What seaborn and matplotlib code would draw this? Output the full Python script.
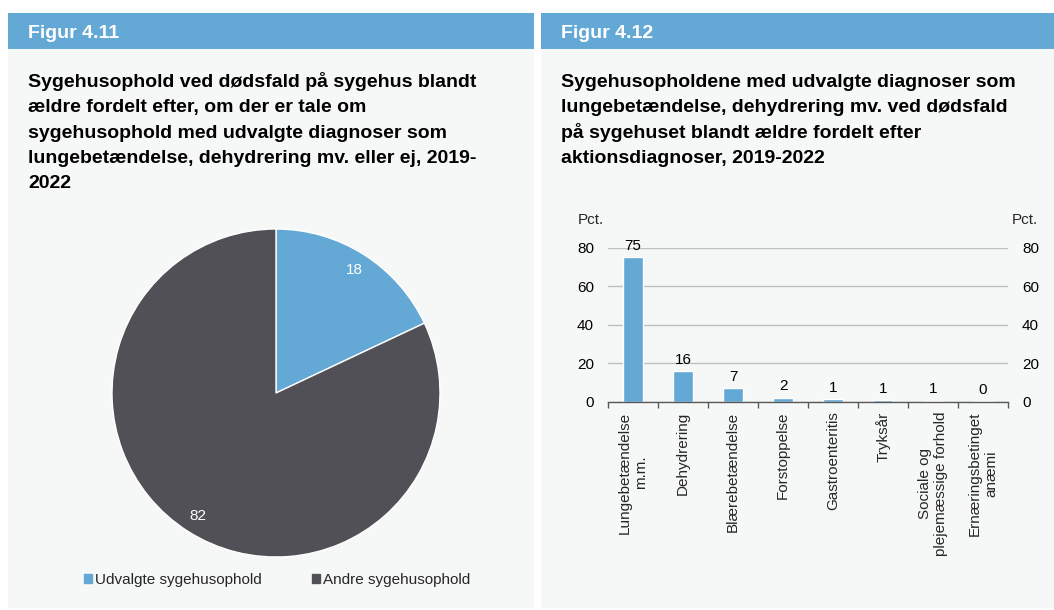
import matplotlib
matplotlib.use("Agg")
import matplotlib.pyplot as plt
import matplotlib.patches as mpatches
import seaborn as sns
import pandas as pd

# ---- data ----
pie_labels = ["Udvalgte sygehusophold", "Andre sygehusophold"]
pie_values = [18, 82]

bar_categories = ["Lungebetændelse\nm.m.", "Dehydrering", "Blærebetændelse", "Forstoppelse",
                  "Gastroenteritis", "Tryksår", "Sociale og\nplejemæssige forhold",
                  "Ernæringsbetinget\nanæmi"]
bar_values = [75.1, 16.0, 7.0, 2.1, 1.3, 0.8, 0.6, 0.2]
bar_value_labels = ["75", "16", "7", "2", "1", "1", "1", "0"]
y_ticks = [0, 20, 40, 60, 80]

left_header = "Figur 4.11"
right_header = "Figur 4.12"
left_title = ["Sygehusophold ved dødsfald på sygehus blandt",
              "ældre fordelt efter, om der er tale om",
              "sygehusophold med udvalgte diagnoser som",
              "lungebetændelse, dehydrering mv. eller ej, 2019-",
              "2022"]
right_title = ["Sygehusopholdene med udvalgte diagnoser som",
               "lungebetændelse, dehydrering mv. ved dødsfald",
               "på sygehuset blandt ældre fordelt efter",
               "aktionsdiagnoser, 2019-2022"]

BLUE = "#64A9D5"
DARK = "#505056"
PANEL = "#F6F7F7"

sns.set_theme(style="white")
plt.rcParams['font.family'] = ['Liberation Sans', 'DejaVu Sans']

W, H = 1054, 610
fig = plt.figure(figsize=(W / 100, H / 100), dpi=100, facecolor="white")

def fx(px):
    return px / W

def fy(py):
    return 1 - py / H

# panels
for x0, x1 in [(8, 534), (541, 1054)]:
    fig.patches.append(mpatches.Rectangle((fx(x0), fy(608)), fx(x1 - x0), (608 - 49) / H,
                                          transform=fig.transFigure, facecolor=PANEL,
                                          edgecolor="none", zorder=-5))
    fig.patches.append(mpatches.Rectangle((fx(x0), fy(49)), fx(x1 - x0), (49 - 13) / H,
                                          transform=fig.transFigure, facecolor=BLUE,
                                          edgecolor="none", zorder=-5))

fig.text(fx(28), fy(38), left_header, color="white", fontsize=14, fontweight="bold",
         va="baseline", ha="left")
fig.text(fx(561), fy(38), right_header, color="white", fontsize=14, fontweight="bold",
         va="baseline", ha="left")
for i, line in enumerate(left_title):
    fig.text(fx(28), fy(87 + 25.3 * i), line, color="black", fontsize=14,
             fontweight="bold", va="baseline", ha="left")
for i, line in enumerate(right_title):
    fig.text(fx(561), fy(87 + 25.3 * i), line, color="black", fontsize=14,
             fontweight="bold", va="baseline", ha="left")

# ---- pie ----
cx, cy, r = 276, 393, 164
axp = fig.add_axes([fx(cx - r), fy(cy + r), fx(2 * r), 2 * r / H])
wedges, texts, autotexts = axp.pie(pie_values, colors=[BLUE, DARK], startangle=90,
                                   counterclock=False, autopct=lambda p: f"{p:.0f}",
                                   pctdistance=0.89,
                                   textprops=dict(color="white", fontsize=11))
axp.set_xlim(-1, 1)
axp.set_ylim(-1, 1)
axp.set_aspect("equal")

handles = [mpatches.Patch(color=BLUE, label=pie_labels[0]),
           mpatches.Patch(color=DARK, label=pie_labels[1])]
fig.legend(handles=handles, loc="center", bbox_to_anchor=(fx(277), fy(580)), ncol=2,
           frameon=False, fontsize=11, handlelength=0.5, handleheight=0.5,
           handletextpad=0.2, columnspacing=3.3)

# ---- bars ----
axb = fig.add_axes([fx(608), fy(401.7), fx(400), 154 / H])
axb.set_facecolor("none")
df = pd.DataFrame({"cat": bar_categories, "val": bar_values})
sns.barplot(data=df, x="cat", y="val", color=BLUE, saturation=1, width=0.4, ax=axb)
axb.bar_label(axb.containers[0], labels=bar_value_labels, padding=3, fontsize=11,
              color="black")
axb.set_ylim(0, 80)
axb.set_xlim(-0.5, len(bar_categories) - 0.5)
axb.set_yticks(y_ticks)
axb.yaxis.grid(True, color="#BFBFBF", linewidth=1)
axb.set_axisbelow(True)
for s in ["left", "right", "top"]:
    axb.spines[s].set_visible(False)
axb.spines["bottom"].set_color("#595959")
axb.spines["bottom"].set_linewidth(1)
axb.set_xlabel("")
axb.set_ylabel("")
axb.tick_params(axis="y", left=False, right=False, length=0, labelleft=True,
                labelright=True, labelsize=11, pad=10, colors="black")
axb.set_xticks(range(len(bar_categories)))
axb.set_xticklabels(bar_categories, rotation=90, fontsize=11)
axb.tick_params(axis="x", which="major", length=0, pad=7, labelsize=11)
axb.set_xticks([i - 0.5 for i in range(len(bar_categories) + 1)], minor=True)
axb.tick_params(axis="x", which="minor", bottom=True, length=4, width=1, color="#595959",
                direction="out")
for lab in axb.get_xticklabels():
    lab.set_multialignment("center")

fig.text(fx(578), fy(220), "Pct.", fontsize=11, ha="left", va="center")
fig.text(fx(1012), fy(220), "Pct.", fontsize=11, ha="left", va="center")

fig.savefig("out.png", dpi=100, facecolor="white")
